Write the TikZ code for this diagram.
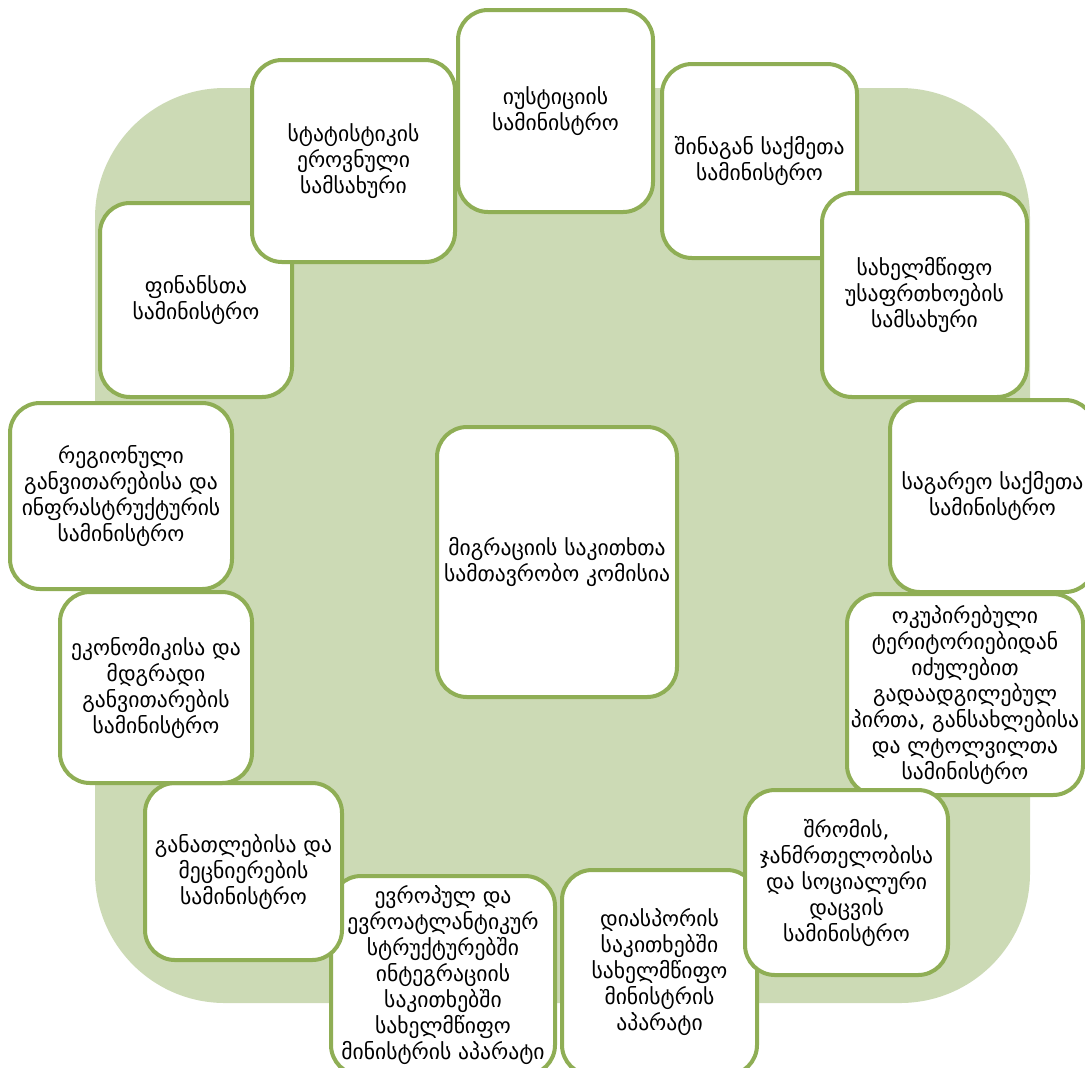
\documentclass[tikz,border=0pt]{standalone}
\usepackage{fontspec}
\setmainfont{DejaVu Sans}
\definecolor{bgg}{HTML}{CCDAB5}
\definecolor{bdg}{HTML}{8FAE55}
\begin{document}
\begin{tikzpicture}[x=0.5pt,y=-0.5pt,
  box/.style={draw=bdg,line width=2pt,fill=white,rounded corners=15pt},
  lbl/.style={align=center,font=\fontsize{10.8}{13}\selectfont,text=black}]
\useasboundingbox (0,0) rectangle (1085,1067);
\fill[bgg,rounded corners=65pt] (95,88) rectangle (1030,1003);
% boxes: name, x1,y1,x2,y2, text
\newcommand{\mybox}[6]{%
  \draw[box] (#2,#3) rectangle (#4,#5);
  \node[lbl] (#1) at ({(#2+#4)/2},{(#3+#5)/2}) {#6};}
\mybox{just}{458}{10}{653}{212}{იუსტიციის\\სამინისტრო}
\mybox{shin}{662}{64}{857}{258}{შინაგან საქმეთა\\სამინისტრო}
\mybox{usaf}{822}{193}{1027}{397}{სახელმწიფო\\უსაფრთხოების\\სამსახური}
\mybox{sagar}{890}{400}{1095}{592}{საგარეო საქმეთა\\სამინისტრო}
\mybox{okup}{847}{594}{1083}{795}{ოკუპირებული\\ტერიტორიებიდან\\იძულებით\\გადაადგილებულ\\პირთა, განსახლებისა\\და ლტოლვილთა\\სამინისტრო}
\mybox{dias}{562}{870}{757}{1075}{დიასპორის\\საკითხებში\\სახელმწიფო\\მინისტრის\\აპარატი}
\mybox{shrom}{745}{790}{948}{975}{შრომის,\\ჯანმრთელობისა\\და სოციალური\\დაცვის\\სამინისტრო}
\mybox{evro}{331}{876}{555}{1075}{ევროპულ და\\ევროატლანტიკურ\\სტრუქტურებში\\ინტეგრაციის\\საკითხებში\\სახელმწიფო\\მინისტრის აპარატი}
\mybox{ganat}{145}{783}{342}{960}{განათლებისა და\\მეცნიერების\\სამინისტრო}
\mybox{ekon}{60}{592}{252}{783}{ეკონომიკისა და\\მდგრადი\\განვითარების\\სამინისტრო}
\mybox{regi}{10}{403}{232}{589}{რეგიონული\\განვითარებისა და\\ინფრასტრუქტურის\\სამინისტრო}
\mybox{fin}{100}{203}{292}{397}{ფინანსთა\\სამინისტრო}
\mybox{stat}{252}{60}{455}{262}{სტატისტიკის\\ეროვნული\\სამსახური}
\mybox{cent}{437}{427}{677}{697}{მიგრაციის საკითხთა\\სამთავრობო კომისია}
\end{tikzpicture}
\end{document}
